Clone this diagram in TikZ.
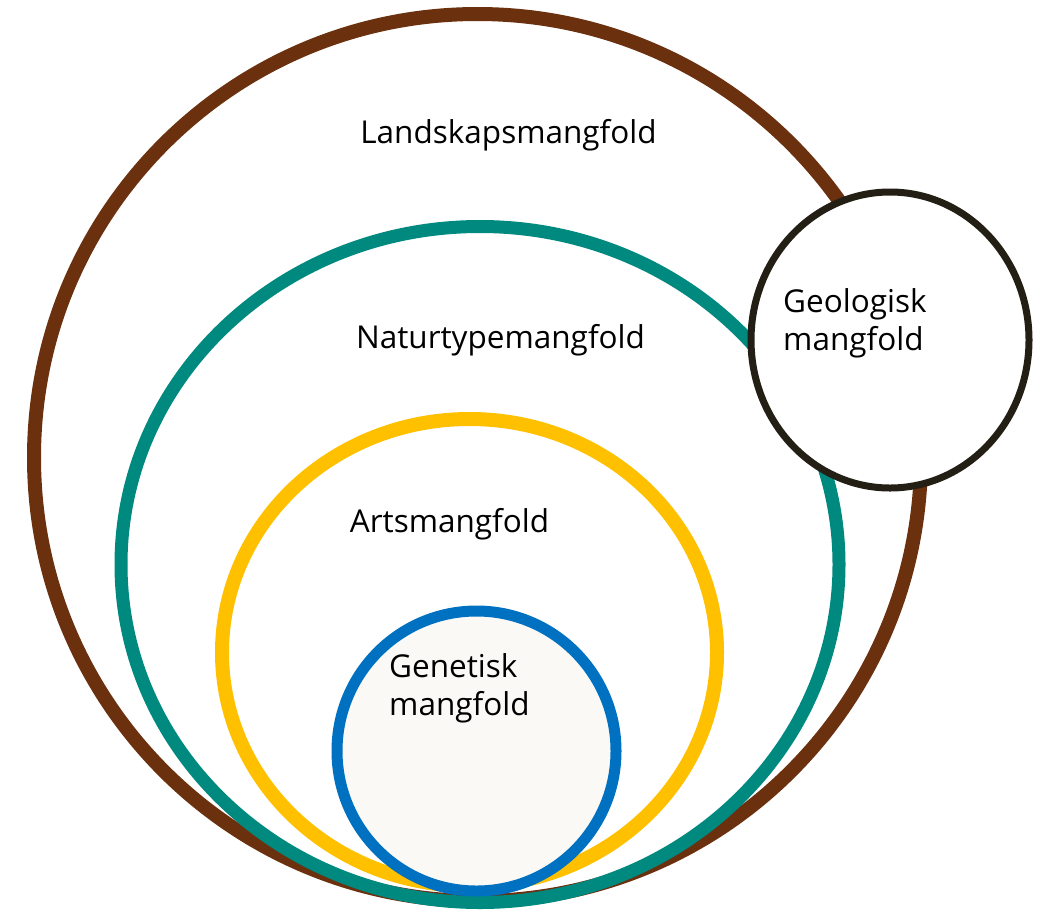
\documentclass[tikz,border=0pt]{standalone}
\usepackage{fontspec}
\setmainfont{Open Sans}
\definecolor{cbrown}{HTML}{6B300E}
\definecolor{cteal}{HTML}{00897F}
\definecolor{cyellow}{HTML}{FFC000}
\definecolor{cblue}{HTML}{0070C0}
\definecolor{cdark}{HTML}{231F14}
\definecolor{cfill}{HTML}{FAF9F6}
\begin{document}
\begin{tikzpicture}[x=1pt,y=-1pt,
  lbl/.style={inner sep=0pt,font=\fontsize{31.5}{38}\selectfont,text=black}]
\useasboundingbox (0,0) rectangle (1043,911);
\draw[cbrown,line width=14pt] (477.5,457.5) ellipse [x radius=443.5, y radius=443.5];
\draw[cteal,line width=13pt] (480,564.5) ellipse [x radius=359, y radius=338];
\draw[cyellow,line width=14pt] (469.5,652.5) ellipse [x radius=247.5, y radius=233.5];
\draw[cblue,line width=11pt,fill=cfill] (476.5,751) ellipse [x radius=139.5, y radius=140];
\draw[cdark,line width=7pt,fill=white] (890,340) ellipse [x radius=139, y radius=148];
\node[lbl,anchor=base] (land) at (508.5,143) {Landskapsmangfold};
\node[lbl,anchor=base] (nat) at (500.5,348) {Naturtypemangfold};
\node[lbl,anchor=base] (arts) at (449.5,532) {Artsmangfold};
\node[lbl,anchor=base west] (gen1) at (389,677) {Genetisk};
\node[lbl,anchor=base west] (gen2) at (389,715) {mangfold};
\node[lbl,anchor=base west] (geo1) at (783,312) {Geologisk};
\node[lbl,anchor=base west] (geo2) at (783,350) {mangfold};
\end{tikzpicture}
\end{document}
